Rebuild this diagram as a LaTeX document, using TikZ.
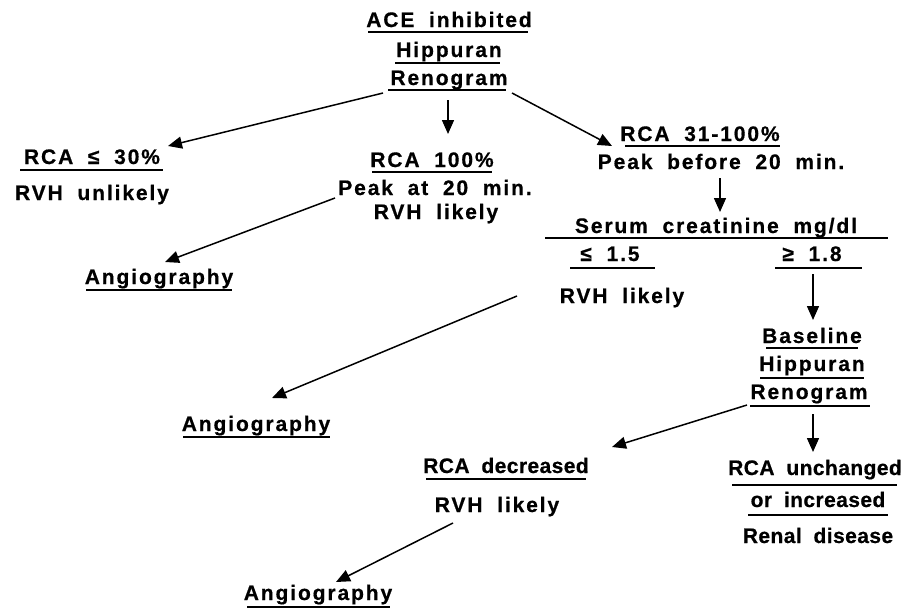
\documentclass[tikz,border=0pt]{standalone}
\usepackage{fontspec}
\setmainfont{Liberation Sans}[LetterSpace=9,WordSpace=1.9,BoldFeatures={FakeBold=0.6}]
\usetikzlibrary{arrows.meta,calc}
\newcommand{\tighttext}[1]{{\addfontfeature{LetterSpace=2}#1}}
\begin{document}
\begin{tikzpicture}[x=1pt,y=-1pt,
  lbl/.style={anchor=base,inner sep=0pt,font=\fontsize{21}{24}\selectfont\bfseries},
  ul/.style={line width=1.5pt},
  arr/.style={line width=1.5pt,-{Triangle[length=14pt,width=12pt]}}]
\useasboundingbox (0,0) rectangle (924,611);
% nodes
\node[lbl] (ace) at (449,27) {ACE inhibited};
\node[lbl] (hip) at (449,57) {Hippuran};
\node[lbl] (ren) at (449,85) {Renogram};
\node[lbl] (r30) at (92,164) {RCA ≤ 30\%};
\node[lbl] (unl) at (92,200) {RVH unlikely};
\node[lbl] (r100) at (432,167) {RCA 100\%};
\node[lbl] (pk20) at (435,195) {Peak at 20 min.};
\node[lbl] (rvh1) at (436,219) {RVH likely};
\node[lbl] (r31) at (700,141) {RCA 31-100\%};
\node[lbl] (pkb) at (721,169) {Peak before 20 min.};
\node[lbl] (ser) at (716,233) {Serum creatinine mg/dl};
\node[lbl] (le) at (610,261) {≤ 1.5};
\node[lbl] (ge) at (812,261) {≥ 1.8};
\node[lbl] (rvh2) at (622,303) {RVH likely};
\node[lbl] (ang1) at (159,284) {Angiography};
\node[lbl] (bas) at (812,343) {Baseline};
\node[lbl] (hip2) at (812,371) {Hippuran};
\node[lbl] (ren2) at (809,399) {Renogram};
\node[lbl] (ang2) at (256,431) {Angiography};
\node[lbl] (dec) at (506,473) {\tighttext{RCA decreased}};
\node[lbl] (unc) at (815,475) {\tighttext{RCA unchanged}};
\node[lbl] (inc) at (818,507) {\tighttext{or increased}};
\node[lbl] (rnd) at (818,543) {\tighttext{Renal disease}};
\node[lbl] (rvh3) at (497,512) {RVH likely};
\node[lbl] (ang3) at (318,600) {Angiography};
% underlines
\draw[ul] (368,32) -- (528,32);
\draw[ul] (395,63) -- (500,63);
\draw[ul] (388,90) -- (506,90);
\draw[ul] (20,170) -- (163,170);
\draw[ul] (372,172) -- (492,172);
\draw[ul] (625,146) -- (780,146);
\draw[ul] (545,238) -- (888,238);
\draw[ul] (570,268) -- (655,268);
\draw[ul] (775,268) -- (862,268);
\draw[ul] (86,290) -- (232,290);
\draw[ul] (766,348) -- (858,348);
\draw[ul] (760,378) -- (864,378);
\draw[ul] (750,406) -- (870,406);
\draw[ul] (183,437) -- (330,437);
\draw[ul] (426,479) -- (586,479);
\draw[ul] (732,485) -- (897,485);
\draw[ul] (748,515) -- (888,515);
\draw[ul] (247,607) -- (390,607);
% connectors
\draw[arr] ($(ren.base)+(-66,8)$) -- ($(r30.base)+(76,-18)$);
\draw[arr] ($(ren.base)+(-1,15)$) -- ($(r100.base)+(16,-33)$);
\draw[arr] ($(ren.base)+(63,8)$) -- ($(r31.base)+(-88,5)$);
\draw[arr] ($(pk20.base)+(-100,3)$) -- ($(ang1.base)+(6,-22)$);
\draw[arr] ($(pkb.base)+(-1,9)$) -- ($(ser.base)+(4,-21)$);
\draw[arr] ($(rvh2.base)+(-105,-7)$) -- ($(ang2.base)+(16,-33)$);
\draw[arr] ($(ge.base)+(1,13)$) -- ($(bas.base)+(1,-23)$);
\draw[arr] ($(ren2.base)+(-62,6)$) -- ($(dec.base)+(106,-26)$);
\draw[arr] ($(ren2.base)+(4,15)$) -- ($(unc.base)+(-2,-23)$);
\draw[arr] ($(rvh3.base)+(-44,11)$) -- ($(ang3.base)+(18,-18)$);
\end{tikzpicture}
\end{document}
